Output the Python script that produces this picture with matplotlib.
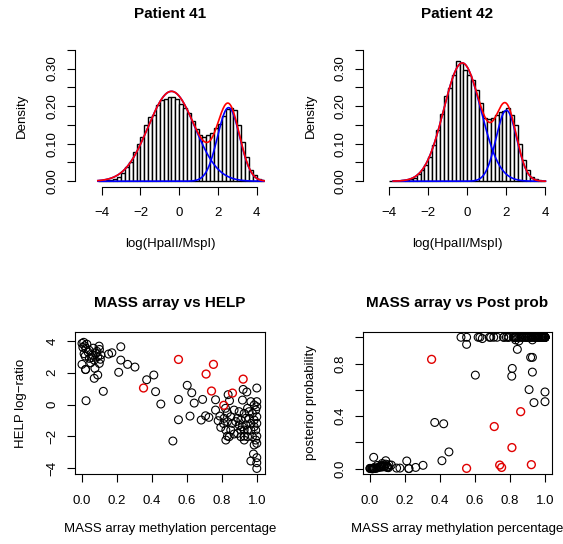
import numpy as np
import matplotlib
matplotlib.use('Agg')
import matplotlib.pyplot as plt

plt.rcParams['font.family'] = ['Liberation Sans', 'DejaVu Sans']

# histogram densities, bins of width 0.2
edges41 = np.round(np.arange(-4.2, 4.41, 0.2), 2)
dens41 = [0.001, 0.001, 0.003, 0.004, 0.007, 0.012, 0.021, 0.038, 0.051, 0.078,
          0.098, 0.118, 0.151, 0.171, 0.176, 0.202, 0.215, 0.220, 0.224, 0.224,
          0.218, 0.205, 0.195, 0.182, 0.160, 0.140, 0.122, 0.118, 0.122, 0.128,
          0.142, 0.153, 0.175, 0.193, 0.195, 0.189, 0.149, 0.105, 0.065, 0.029,
          0.016, 0.007, 0.003]
edges42 = np.round(np.arange(-4.0, 4.01, 0.2), 2)
dens42 = [0.000, 0.001, 0.001, 0.002, 0.003, 0.005, 0.009, 0.020, 0.029, 0.044,
          0.065, 0.096, 0.136, 0.180, 0.226, 0.249, 0.283, 0.319, 0.315, 0.295,
          0.284, 0.269, 0.244, 0.208, 0.169, 0.167, 0.168, 0.176, 0.184, 0.188,
          0.194, 0.176, 0.149, 0.100, 0.056, 0.029, 0.012, 0.005, 0.002, 0.001]

# two-component normal mixture fits
means41 = [-0.40, 2.55]
sds41 = [1.20, 0.57]
wts41 = [0.72, 0.28]
range41 = [-4.2, 4.4]
means42 = [-0.26, 2.00]
sds42 = [0.95, 0.528]
wts42 = [0.75, 0.25]
range42 = [-3.8, 4.0]

# MASS array samples: methylation, HELP log-ratio, posterior probability
mass = [0.000, 0.010, 0.028, 0.005, 0.022, 0.040, 0.098, 0.100, 0.080, 0.060,
        0.042, 0.090, 0.070, 0.108, 0.000, 0.050, 0.099, 0.021, 0.074, 0.090,
        0.070, 0.122, 0.023, 0.015, 0.035, 0.018, 0.065, 0.085, 0.055, 0.020,
        0.105, 0.012,
        0.152, 0.171, 0.222, 0.222, 0.210, 0.261, 0.303, 0.370, 0.411, 0.421, 0.451,
        0.520, 0.552, 0.552, 0.602, 0.618, 0.628, 0.642, 0.690, 0.682, 0.707, 0.726,
        0.764, 0.764, 0.789, 0.779, 0.794, 0.836, 0.844, 0.821, 0.832, 0.823,
        0.832, 0.851, 0.870, 0.890, 0.909, 0.928, 0.899, 0.918, 0.922, 0.943,
        1.000, 0.966, 0.985, 0.947, 0.928, 0.870, 0.851, 0.880, 0.909, 0.937,
        0.956, 0.975, 0.994, 1.000, 1.000, 0.994, 1.000, 0.994, 0.985, 1.000,
        0.966, 0.947, 0.975, 0.918, 0.899, 0.890, 0.937, 0.956, 0.985, 0.985,
        0.966, 0.928, 0.947, 0.861, 0.832, 0.813, 0.823, 0.842, 0.909, 0.928,
        1.000, 1.000, 0.810, 0.981, 0.966, 1.000, 1.000, 1.000]
helpv = [3.85, 3.92, 3.80, 3.60, 3.54, 3.43, 3.68, 3.47, 3.22, 3.12,
         2.91, 3.01, 2.80, 3.12, 2.53, 2.63, 2.59, 2.21, 2.28, 1.86,
         1.65, 0.83, 0.24, 3.70, 3.30, 3.05, 3.55, 3.35, 2.95, 2.20,
         2.85, 3.20,
         3.18, 3.26, 3.64, 2.80, 2.03, 2.53, 2.36, 1.56, 1.86, 0.81, 0.03,
         -2.30, 0.32, -0.96, 1.21, -0.73, 0.74, 0.09, 0.32, -0.98, -0.71, -0.81,
         0.30, -0.35, -0.73, -1.02, -1.44, 0.62, 0.24, -0.24, -0.52, -2.24,
         -1.99, -1.61, -1.86, -1.82, -1.61, -1.99, -0.45, 0.28, 0.95, 0.79,
         1.04, 0.18, -0.03, -0.24, -0.56, -0.35, -0.77, -1.08, -0.98, -1.29,
         -0.87, -0.56, -0.35, -0.77, -1.19, -1.61, -1.99, -2.24, -2.55, -2.45,
         -1.61, -2.03, -2.03, -1.40, -1.29, -0.87, -0.87, -0.45, -0.98, -1.40,
         -1.19, -1.61, -1.61, -1.19, -1.08, -0.87, -1.61, -2.03, -2.03, -2.24,
         -0.14, 0.18, -1.20, -3.12, -3.56, -3.35, -3.67, -4.03]
post = [0.002, 0.001, 0.003, 0.002, 0.004, 0.006, 0.010, 0.012, 0.015, 0.020,
        0.025, 0.061, 0.040, 0.030, 0.003, 0.010, 0.018, 0.087, 0.022, 0.035,
        0.028, 0.028, 0.008, 0.000, 0.004, 0.001, 0.012, 0.020, 0.015, 0.005,
        0.008, 0.000,
        0.005, 0.005, 0.001, 0.002, 0.059, 0.010, 0.026, 0.352, 0.061, 0.342, 0.128,
        1.000, 1.000, 0.946, 0.712, 1.000, 1.000, 0.990, 1.000, 1.000, 1.000, 1.000,
        1.000, 1.000, 1.000, 1.000, 1.000, 1.000, 1.000, 1.000, 0.980, 1.000,
        1.000, 0.972, 1.000, 1.000, 1.000, 1.000, 1.000, 1.000, 1.000, 1.000,
        1.000, 1.000, 1.000, 1.000, 0.847, 1.000, 1.000, 1.000, 0.602, 0.503,
        1.000, 1.000, 1.000, 1.000, 1.000, 1.000, 1.000, 1.000, 1.000, 1.000,
        1.000, 1.000, 1.000, 0.847, 1.000, 1.000, 1.000, 1.000, 1.000, 1.000,
        1.000, 0.980, 1.000, 1.000, 1.000, 0.763, 1.000, 0.908, 1.000, 0.735,
        1.000, 1.000, 0.704, 1.000, 1.000, 0.584, 1.000, 0.510]

# discordant samples (drawn in red)
mass_red = [0.352, 0.552, 0.710, 0.741, 0.752, 0.811, 0.861, 0.922]
help_red = [1.04, 2.84, 1.92, 0.85, 2.53, -0.05, 0.72, 1.60]
post_red = [0.832, 0.003, 0.321, 0.028, 0.010, 0.161, 0.434, 0.031]

W, H = 563, 544
fig = plt.figure(figsize=(W / 100, H / 100), dpi=100)

def add_ax(x0, x1, y0, y1):
    return fig.add_axes([x0 / W, 1 - y1 / H, (x1 - x0) / W, (y1 - y0) / H])

FS = 9.5

def style(ax, xlab, ylab, ylx, xly):
    ax.tick_params(direction='out', length=5.5, width=0.8, labelsize=FS)
    ax.tick_params(axis='x', pad=9.5)
    ax.tick_params(axis='y', labelrotation=90, pad=6.5)
    for lab in ax.get_yticklabels():
        lab.set_va('center')
    ax.set_xlabel(xlab, fontsize=FS)
    ax.set_ylabel(ylab, fontsize=FS)
    ax.xaxis.set_label_coords(0.5, xly)
    ax.yaxis.set_label_coords(ylx, 0.5)

def mixture_panel(ax, edges, dens, means, sds, wts, xr, title, xlim, ylx):
    ax.bar(edges[:-1], dens, width=0.2, align='edge', color='white',
           edgecolor='black', linewidth=1.0)
    xs = np.linspace(xr[0], xr[1], 400)
    total = np.zeros_like(xs)
    for m, s, w in zip(means, sds, wts):
        comp = w * np.exp(-0.5 * ((xs - m) / s) ** 2) / (s * np.sqrt(2 * np.pi))
        total += comp
        ax.plot(xs, comp, color='blue', lw=1.2)
    ax.plot(xs, total, color='red', lw=1.2)
    ax.set_xlim(*xlim)
    ax.set_ylim(-0.014, 0.364)
    ax.set_xticks([-4, -2, 0, 2, 4])
    yt = np.round(np.arange(0, 0.351, 0.05), 2)
    ax.set_yticks(yt)
    ax.set_yticklabels(['%.2f' % v if i % 2 == 0 else '' for i, v in enumerate(yt)])
    for s in ['top', 'right']:
        ax.spines[s].set_visible(False)
    ax.spines['left'].set_bounds(0, 0.35)
    ax.spines['bottom'].set_bounds(-4, 4)
    for s in ['left', 'bottom']:
        ax.spines[s].set_linewidth(0.8)
    style(ax, 'log(HpaII/MspI)', 'Density', ylx, -0.36)
    ax.set_title(title, fontsize=11, fontweight='bold', pad=19)

ax1 = add_ax(75, 265, 44.5, 186.5)
mixture_panel(ax1, edges41, dens41, means41, sds41, wts41, range41,
              'Patient 41', (-5.38, 4.43), -0.25)
ax2 = add_ax(363, 552, 44.5, 186.5)
mixture_panel(ax2, edges42, dens42, means42, sds42, wts42, range42,
              'Patient 42', (-5.35, 4.34), -0.245)

# MASS array vs HELP
ax3 = add_ax(75, 265, 332, 474)
ax3.scatter(mass, helpv, s=32, facecolors='none', edgecolors='black', linewidths=0.8)
ax3.scatter(mass_red, help_red, s=32, facecolors='none', edgecolors='#e00000', linewidths=1.0)
ax3.set_xlim(-0.04, 1.047)
ax3.set_ylim(-4.38, 4.57)
ax3.set_xticks(np.round(np.arange(0, 1.01, 0.2), 1))
ax3.set_xticklabels(['0.0', '0.2', '0.4', '0.6', '0.8', '1.0'])
ax3.set_yticks([-4, -2, 0, 2, 4])
style(ax3, 'MASS array methylation percentage', 'HELP log\u2212ratio', -0.255, -0.345)
ax3.set_title('MASS array vs HELP', fontsize=11, fontweight='bold', pad=18)

# MASS array vs posterior probability
ax4 = add_ax(363, 552, 332, 474)
ax4.scatter(mass, post, s=32, facecolors='none', edgecolors='black', linewidths=0.8)
ax4.scatter(mass_red, post_red, s=32, facecolors='none', edgecolors='#e00000', linewidths=1.0)
ax4.set_xlim(-0.04, 1.04)
ax4.set_ylim(-0.04, 1.04)
ax4.set_xticks(np.round(np.arange(0, 1.01, 0.2), 1))
ax4.set_xticklabels(['0.0', '0.2', '0.4', '0.6', '0.8', '1.0'])
ax4.set_yticks(np.round(np.arange(0, 1.01, 0.2), 1))
ax4.set_yticklabels(['0.0', '', '0.4', '', '0.8', ''])
style(ax4, 'MASS array methylation percentage', 'posterior probability', -0.245, -0.345)
ax4.set_title('MASS array vs Post prob', fontsize=11, fontweight='bold', pad=18)

for ax in [ax3, ax4]:
    for s in ax.spines.values():
        s.set_linewidth(0.8)

fig.savefig('out.png', dpi=100)
